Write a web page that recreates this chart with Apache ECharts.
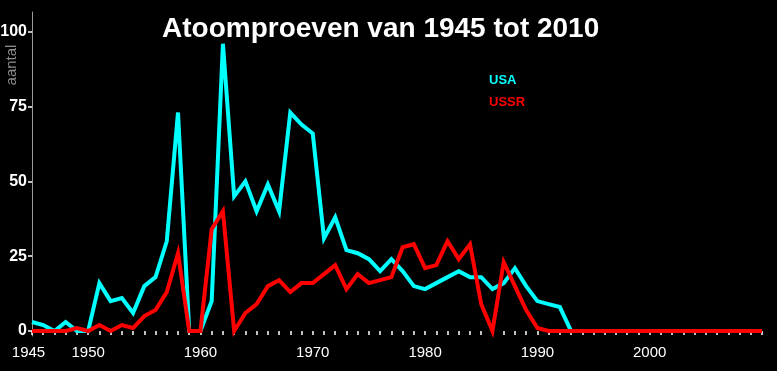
<!DOCTYPE html>
<html>
<head>
<meta charset="utf-8">
<script src="https://cdn.jsdelivr.net/npm/echarts@6/dist/echarts.min.js"></script>
<style>
html,body{margin:0;padding:0;background:#000;}
#chart{width:777px;height:371px;}
</style>
</head>
<body>
<div id="chart"></div>
<script>
const years = [];
for (let y = 1945; y <= 2010; y++) years.push(y);

const usa = [3, 2, 0, 3, 0, 0, 16, 10, 11, 6,
  15, 18, 30, 73, 0, 0, 10, 96, 45, 50,
  40, 49, 40, 73, 69, 66, 31, 38, 27, 26,
  24, 20, 24, 20, 15, 14, 16, 18, 20, 18,
  18, 14, 16, 21, 15, 10, 9, 8, 0, 0,
  0, 0, 0, 0, 0, 0, 0, 0, 0, 0,
  0, 0, 0, 0, 0, 0];

const ussr = [0, 0, 0, 0, 1, 0, 2, 0, 2, 1,
  5, 7, 13, 26, 0, 0, 34, 40, 0, 6,
  9, 15, 17, 13, 16, 16, 19, 22, 14, 19,
  16, 17, 18, 28, 29, 21, 22, 30, 24, 29,
  9, 0, 23, 15, 7, 1, 0, 0, 0, 0,
  0, 0, 0, 0, 0, 0, 0, 0, 0, 0,
  0, 0, 0, 0, 0, 0];

const xLabelYears = [1945, 1950, 1960, 1970, 1980, 1990, 2000];
const yTickValues = [0, 25, 50, 75, 100];

const chart = echarts.init(document.getElementById('chart'), null, {renderer: 'canvas'});
const font = 'Liberation Sans, Arial, sans-serif';

chart.setOption({
  backgroundColor: '#000000',
  animation: false,
  title: {
    text: 'Atoomproeven van 1945 tot 2010',
    left: 162,
    top: 15,
    padding: 0,
    textStyle: {color: '#ffffff', fontSize: 28, fontWeight: 'bold', fontFamily: font}
  },
  legend: {
    orient: 'vertical',
    left: 484,
    top: 73,
    padding: 0,
    itemWidth: 0,
    itemHeight: 14,
    itemGap: 8,
    icon: 'rect',
    selectedMode: false,
    data: [
      {name: 'USA', textStyle: {color: '#00ffff'}},
      {name: 'USSR', textStyle: {color: '#ff0000'}}
    ],
    textStyle: {fontSize: 13, fontWeight: 'bold', fontFamily: font}
  },
  grid: {left: 32, right: 15, top: 12, bottom: 35, containLabel: false, outerBoundsMode: 'none'},
  xAxis: {
    type: 'value',
    min: 1945,
    max: 2010,
    interval: 1,
    splitLine: {show: false},
    axisLine: {show: false},
    axisTick: {show: true, length: 4, lineStyle: {color: '#ffffff', width: 1.5}, customValues: years},
    axisLabel: {
      customValues: xLabelYears,
      color: '#ffffff', fontSize: 15, fontFamily: font, margin: 9,
      formatter: v => (v === 1945 ? '{s|1945}' : String(v)),
      rich: {s: {color: '#ffffff', fontSize: 15, fontFamily: font, padding: [0, 7, 0, 0]}}
    }
  },
  yAxis: {
    type: 'value',
    min: -1.67,
    max: 106.6,
    splitLine: {show: false},
    axisLine: {show: true, lineStyle: {color: '#9a9a9a', width: 1}},
    axisTick: {show: true, length: 4, lineStyle: {color: '#ffffff', width: 1.5}, customValues: yTickValues},
    axisLabel: {
      customValues: yTickValues,
      color: '#ffffff', fontSize: 16, fontWeight: 'bold', fontFamily: font, margin: 5,
      formatter: v => String(v)
    }
  },
  graphic: [{
    type: 'text',
    x: 12,
    y: 65,
    rotation: Math.PI / 2,
    style: {
      text: 'aantal',
      fill: '#8c8c8c',
      font: '15px ' + font,
      textAlign: 'center',
      textVerticalAlign: 'middle'
    }
  }],
  series: [
    {
      name: 'USA',
      type: 'line',
      data: years.map((y, i) => [y, usa[i]]),
      showSymbol: false,
      symbol: 'none',
      color: '#00ffff',
      lineStyle: {color: '#00ffff', width: 4, join: 'miter', cap: 'butt'},
      z: 2
    },
    {
      name: 'USSR',
      type: 'line',
      data: years.map((y, i) => [y, ussr[i]]),
      showSymbol: false,
      symbol: 'none',
      color: '#ff0000',
      lineStyle: {color: '#ff0000', width: 4, join: 'miter', cap: 'butt'},
      z: 3
    }
  ]
});
</script>
</body>
</html>
